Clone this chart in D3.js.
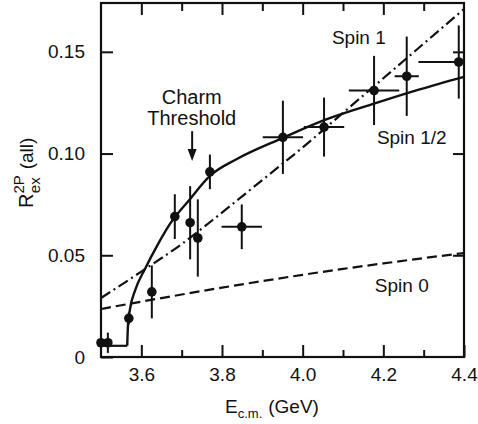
<!DOCTYPE html>
<html>
<head>
<meta charset="utf-8">
<script src="https://cdn.jsdelivr.net/npm/d3@7"></script>
<style>
  body { margin: 0; background: #fff; }
  svg { display: block; font-family: "Liberation Sans", Arial, sans-serif; }
</style>
</head>
<body>
<svg id="chart" width="478" height="424"></svg>
<script>
// measured points: energy (GeV), R, half-widths
const energy = [3.50, 3.517, 3.569, 3.626, 3.683, 3.721, 3.740, 3.770, 3.849, 3.951, 4.053, 4.177, 4.258, 4.387];
const ratio  = [0.007, 0.007, 0.019, 0.032, 0.069, 0.066, 0.0585, 0.091, 0.064, 0.108, 0.113, 0.131, 0.138, 0.145];
const energyErr = [0, 0, 0, 0, 0, 0, 0, 0.01, 0.05, 0.05, 0.05, 0.0625, 0.03, 0.1];
const ratioErr  = [0.004, 0.005, 0.003, 0.013, 0.011, 0.018, 0.019, 0.0085, 0.011, 0.018, 0.0145, 0.017, 0.0195, 0.018];

// model curves
const spinHalfStep = [[3.50, 0.0055], [3.565, 0.0055]];
const spinHalfE = [3.565, 3.567, 3.572, 3.585, 3.609, 3.64, 3.671, 3.721, 3.77, 3.837, 3.951, 4.055, 4.177, 4.29, 4.40];
const spinHalfR = [0.0055, 0.016, 0.0236, 0.033, 0.0433, 0.055, 0.0654, 0.0777, 0.089, 0.0973, 0.1077, 0.1165, 0.1245, 0.1315, 0.1377];
const spinOneE = [3.5, 3.6, 3.7, 3.8, 3.9, 4.0, 4.1, 4.2, 4.3, 4.4];
const spinOneR = [0.029, 0.042, 0.0555, 0.071, 0.087, 0.103, 0.120, 0.137, 0.154, 0.171];
const spinZeroE = [3.5, 3.6, 3.7, 3.8, 3.9, 4.0, 4.1, 4.2, 4.3, 4.4];
const spinZeroR = [0.0236, 0.0272, 0.0307, 0.0341, 0.0373, 0.0404, 0.0433, 0.0460, 0.0486, 0.0511];

const xMajor = [3.6, 3.8, 4.0, 4.2, 4.4];
const xMinor = [3.7, 3.9, 4.1, 4.3];
const yTicks = [0, 0.05, 0.10, 0.15];

const svg = d3.select('#chart');
const plotLeft = 101, plotRight = 464, plotTop = 3, plotBottom = 357;

const x = d3.scaleLinear().domain([3.5, 4.4]).range([plotLeft, plotRight]);
const y = d3.scaleLinear().domain([0, 0.174]).range([plotBottom, plotTop]);

const ink = '#111';

// axes
svg.append('g')
  .attr('transform', `translate(0,${plotBottom})`)
  .call(d3.axisBottom(x).tickValues(xMajor).tickSizeInner(-12).tickSizeOuter(0).tickPadding(11)
    .tickFormat(d3.format('.1f')));
svg.append('g')
  .attr('transform', `translate(0,${plotBottom})`)
  .call(d3.axisBottom(x).tickValues(xMinor).tickSizeInner(-7).tickSizeOuter(0).tickFormat(''));
svg.append('g')
  .attr('transform', `translate(0,${plotTop})`)
  .call(d3.axisTop(x).tickValues(xMajor.slice(0, -1)).tickSizeInner(-12).tickSizeOuter(0).tickFormat(''));
svg.append('g')
  .attr('transform', `translate(0,${plotTop})`)
  .call(d3.axisTop(x).tickValues(xMinor).tickSizeInner(-8).tickSizeOuter(0).tickFormat(''));
svg.append('g')
  .attr('transform', `translate(${plotLeft},0)`)
  .call(d3.axisLeft(y).tickValues(yTicks).tickSizeInner(-12).tickSizeOuter(0).tickPadding(16)
    .tickFormat(d => d === 0 ? '0' : d3.format('.2f')(d)));
svg.append('g')
  .attr('transform', `translate(${plotRight},0)`)
  .call(d3.axisRight(y).tickValues(yTicks.slice(1)).tickSizeInner(-11).tickSizeOuter(0).tickFormat(''));

svg.selectAll('.domain').remove();
svg.selectAll('.tick line').attr('stroke', ink).attr('stroke-width', 2);
svg.selectAll('.tick text').attr('fill', ink).style('font-size', '19px');

svg.append('rect')
  .attr('x', plotLeft).attr('y', plotTop)
  .attr('width', plotRight - plotLeft).attr('height', plotBottom - plotTop)
  .attr('fill', 'none').attr('stroke', ink).attr('stroke-width', 2.2);

// curves
const plot = svg.append('g');
const line = d3.line().x(d => x(d[0])).y(d => y(d[1]));

plot.append('path')
  .attr('d', line(spinHalfStep))
  .attr('fill', 'none').attr('stroke', ink).attr('stroke-width', 2.2);
plot.append('path')
  .attr('d', line.curve(d3.curveMonotoneX)(spinHalfE.map((e, i) => [e, spinHalfR[i]])))
  .attr('fill', 'none').attr('stroke', ink).attr('stroke-width', 2.4);
plot.append('path')
  .attr('d', line.curve(d3.curveMonotoneX)(spinOneE.map((e, i) => [e, spinOneR[i]])))
  .attr('fill', 'none').attr('stroke', ink).attr('stroke-width', 2.2)
  .attr('stroke-dasharray', '11,4,2,4');
plot.append('path')
  .attr('d', line.curve(d3.curveMonotoneX)(spinZeroE.map((e, i) => [e, spinZeroR[i]])))
  .attr('fill', 'none').attr('stroke', ink).attr('stroke-width', 2.2)
  .attr('stroke-dasharray', '10,5');

// data points with error bars
const pts = energy.map((e, i) => ({ e, r: ratio[i], ex: energyErr[i], er: ratioErr[i] }));

plot.selectAll('.ey')
  .data(pts)
  .enter()
  .append('line')
  .attr('class', 'ey')
  .attr('x1', d => x(d.e)).attr('x2', d => x(d.e))
  .attr('y1', d => y(d.r - d.er)).attr('y2', d => y(d.r + d.er))
  .attr('stroke', ink).attr('stroke-width', 2);

plot.selectAll('.ex')
  .data(pts.filter(d => d.ex > 0))
  .enter()
  .append('line')
  .attr('class', 'ex')
  .attr('x1', d => x(d.e - d.ex)).attr('x2', d => Math.min(x(d.e + d.ex), plotRight))
  .attr('y1', d => y(d.r)).attr('y2', d => y(d.r))
  .attr('stroke', ink).attr('stroke-width', 2);

plot.selectAll('circle')
  .data(pts)
  .enter()
  .append('circle')
  .attr('cx', d => x(d.e)).attr('cy', d => y(d.r))
  .attr('r', 4.8)
  .attr('fill', ink);

// labels
const label = (e, r, txt, size) => svg.append('text')
  .attr('x', x(e)).attr('y', y(r))
  .attr('fill', ink).style('font-size', size + 'px')
  .text(txt);

label(4.0725, 0.154, 'Spin 1', 19);
label(4.184, 0.1047, 'Spin 1/2', 19);
label(4.179, 0.032, 'Spin 0', 19);

svg.append('text')
  .attr('x', x(3.725)).attr('y', y(0.1244))
  .attr('text-anchor', 'middle').attr('fill', ink).style('font-size', '20px')
  .text('Charm');
svg.append('text')
  .attr('x', x(3.725)).attr('y', y(0.114))
  .attr('text-anchor', 'middle').attr('fill', ink).style('font-size', '20px')
  .text('Threshold');

// threshold arrow
const ax = x(3.726), ay0 = y(0.111), ay1 = y(0.0964);
svg.append('line')
  .attr('x1', ax).attr('x2', ax).attr('y1', ay0).attr('y2', ay1 - 8)
  .attr('stroke', ink).attr('stroke-width', 2);
svg.append('path')
  .attr('d', `M${ax - 4.5},${ay1 - 12}L${ax + 4.5},${ay1 - 12}L${ax},${ay1}Z`)
  .attr('fill', ink);

// axis titles
const xt = svg.append('text')
  .attr('x', 225).attr('y', 413)
  .attr('fill', ink).style('font-size', '19px');
xt.append('tspan').text('E');
xt.append('tspan').attr('dy', 5).style('font-size', '13px').text('c.m.');
xt.append('tspan').attr('dy', -5).attr('dx', 6).text('(GeV)');

const yt = svg.append('text')
  .attr('transform', 'translate(33,208) rotate(-90)')
  .attr('fill', ink).style('font-size', '20px');
yt.append('tspan').text('R');
yt.append('tspan').attr('dy', -9).style('font-size', '15px').text('2P');
yt.append('tspan').attr('dy', 16).attr('dx', -18).style('font-size', '15px').text('ex');
yt.append('tspan').attr('dy', -7).attr('dx', 8).style('font-size', '19px').text('(all)');
</script>
</body>
</html>
